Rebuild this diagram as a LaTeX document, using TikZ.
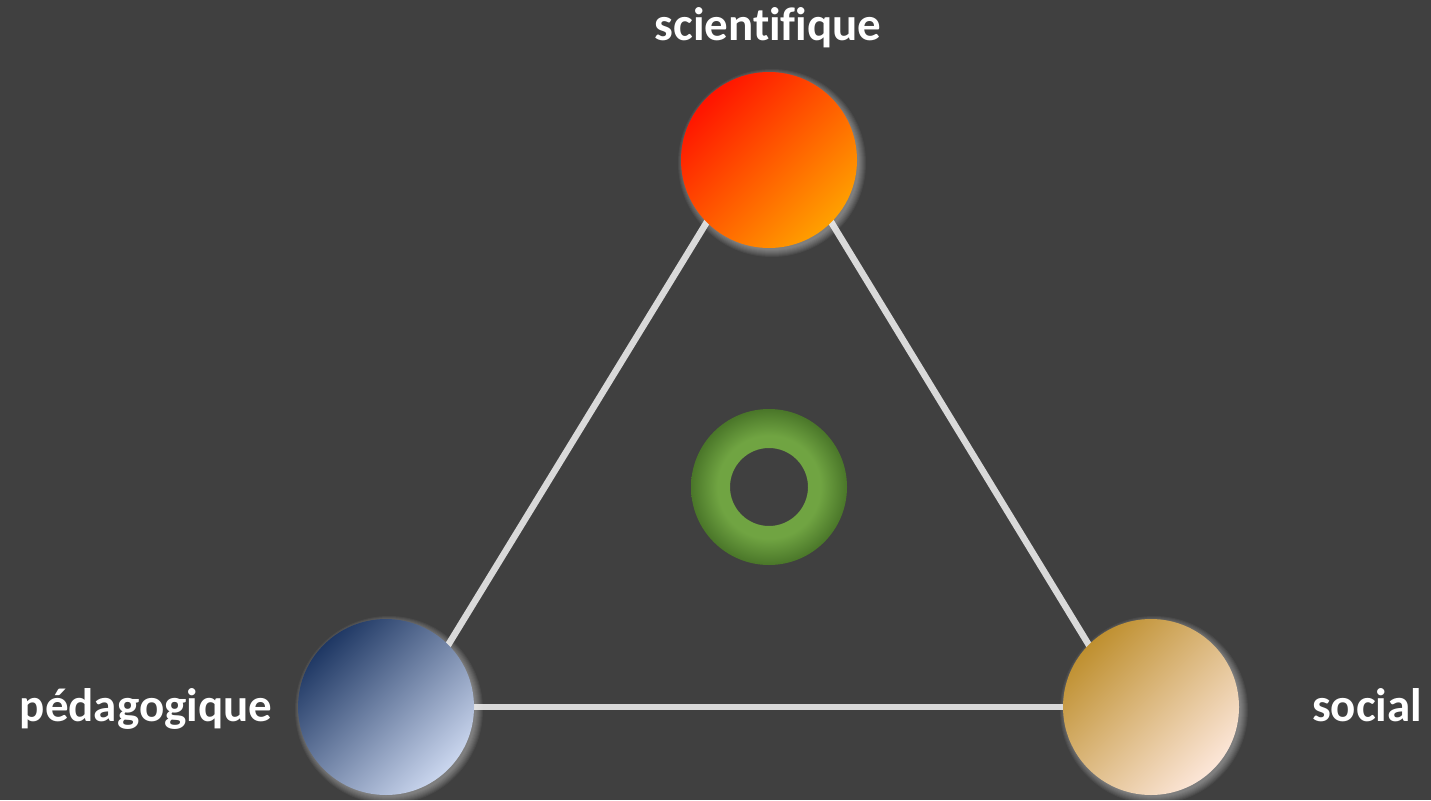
\documentclass[tikz,border=0pt]{standalone}
\usepackage{fontspec}
\setmainfont{Carlito}[Ligatures=NoCommon]
\usetikzlibrary{backgrounds}
\begin{document}
\begin{tikzpicture}[x=1pt,y=-1pt]
\definecolor{bg}{HTML}{404040}
\definecolor{linegray}{HTML}{D9D9D9}
\definecolor{redA}{HTML}{FF1400}
\definecolor{redB}{HTML}{FFA000}
\definecolor{blueA}{HTML}{1F3864}
\definecolor{blueB}{HTML}{CAD6EE}
\definecolor{sandA}{HTML}{BF9030}
\definecolor{sandB}{HTML}{FCE6D8}
\definecolor{gdark}{HTML}{4A7629}
\definecolor{glight}{HTML}{70A442}
\pgfdeclareradialshading{ringshade}{\pgfpoint{0bp}{0bp}}{%
  color(0bp)=(glight); color(12.5bp)=(glight); color(16.5bp)=(glight);
  color(25bp)=(gdark); color(50bp)=(gdark)}
\tikzset{
  ball/.style={circle, inner sep=0pt, minimum size=176pt},
  lbl/.style={text=white, font=\fontsize{47}{56}\selectfont\bfseries, anchor=base, inner sep=0pt},
  link/.style={draw=linegray, line width=6.5pt, shorten <=-4pt, shorten >=-4pt},
  halo/.style={fill=white, opacity=0.05},
}
\begin{pgfonlayer}{background}
\fill[bg] (0,0) rectangle (1431,800);
\end{pgfonlayer}
\useasboundingbox (0,0) rectangle (1431,800);
% glows
\foreach \cx/\cy in {769/160, 386/707, 1151/707}{
  \foreach \k in {0,...,7}{
    \fill[halo] (\cx+3,\cy+3) circle ({87+\k});
  }
}
% spheres
\node[ball, top color=redA, bottom color=redB, shading angle=45] (sci) at (769,160) {};
\node[ball, top color=blueA, bottom color=blueB, shading angle=45] (ped) at (386,707) {};
\node[ball, top color=sandA, bottom color=sandB, shading angle=45] (soc) at (1151,707) {};
% connectors (behind the spheres)
\begin{pgfonlayer}{background}
\draw[link] (sci.225) -- (ped.45);
\draw[link] (sci.-45) -- (soc.135);
\draw[link] (ped.east) -- (soc.west);
\end{pgfonlayer}
% ring
\coordinate (rc) at (769,487);
\shade[shading=ringshade, even odd rule] (rc) circle (78) (rc) circle (39);
% labels
\node[lbl] (tsci) at (768,41) {scientifique};
\node[lbl] (tped) at (146,721) {pédagogique};
\node[lbl] (tsoc) at (1367,721) {social};
\end{tikzpicture}
\end{document}
